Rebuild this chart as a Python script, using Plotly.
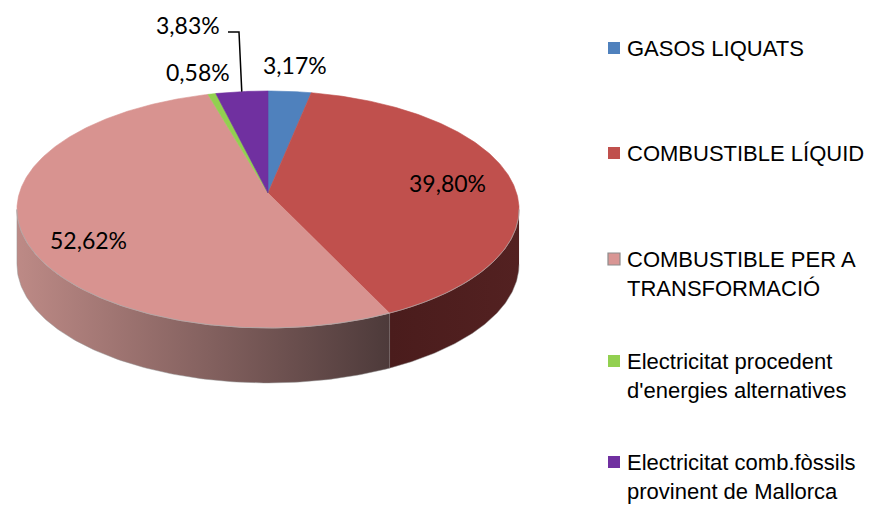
import numpy as np
import plotly.graph_objects as go

# ---------------- data ----------------
categories = [
    "GASOS LIQUATS",
    "COMBUSTIBLE LÍQUID",
    "COMBUSTIBLE PER A<br>TRANSFORMACIÓ",
    "Electricitat procedent<br>d'energies alternatives",
    "Electricitat comb.fòssils<br>provinent de Mallorca",
]
values = [3.17, 39.80, 52.62, 0.58, 3.83]

# ---------------- styling ----------------
top_colors = ["#4f81bd", "#c0504d", "#d89390", "#92d050", "#7030a0"]
side_scales = [
    [[0, "#2b4768"], [1, "#223a55"]],
    [[0, "#4a1c1c"], [1, "#532121"]],
    [[0, "#bd8a86"], [1, "#4d3a3a"]],
    [[0, "#557a2a"], [1, "#476622"]],
    [[0, "#3e1a5a"], [1, "#35164d"]],
]
legend_swatch = ["#4f81bd", "#c0504d", "#d99694", "#92d050", "#7030a0"]

W, H = 885, 505
OFF = 8  # page body margin
CX, CY = 268.0, 193.0      # projected pie centre (pixels)
A, B, K = 248.6, 116.2, 0.139  # horizontal / vertical radius, perspective
DEPTH = 55.0

def proj(theta, r=1.0):
    X = r * np.sin(theta)
    Z = r * np.cos(theta)
    s = 1.0 + K * Z
    return CX + A * X / s, CY - B * Z / s

total = sum(values)
bounds = np.concatenate([[0], np.cumsum(values) / total * 2 * np.pi])

fig = go.Figure()

# side walls (visible front part)
th_r = np.arccos(-K)
th_l = 2 * np.pi - th_r
for i, v in enumerate(values):
    a0, a1 = max(bounds[i], th_r), min(bounds[i + 1], th_l)
    if a1 <= a0:
        continue
    th = np.linspace(a0, a1, 120)
    xt, yt = proj(th)
    xs = np.concatenate([xt, xt[::-1]])
    ys = np.concatenate([yt, (yt + DEPTH)[::-1]])
    fig.add_trace(go.Scatter(
        x=xs, y=ys, mode="lines", fill="toself",
        fillgradient=dict(type="horizontal", colorscale=side_scales[i]),
        line=dict(width=0.8, color="rgba(150,150,150,0.6)"),
        hoverinfo="skip", showlegend=False))

# top faces
for i, v in enumerate(values):
    th = np.linspace(bounds[i], bounds[i + 1], max(8, int(v * 6)))
    xt, yt = proj(th)
    xs = np.concatenate([[CX], xt, [CX]])
    ys = np.concatenate([[CY], yt, [CY]])
    fig.add_trace(go.Scatter(
        x=xs, y=ys, mode="lines", fill="toself", fillcolor=top_colors[i],
        line=dict(width=0.6, color=top_colors[i]),
        hoverinfo="skip", showlegend=False))

# rim highlight along the front edge
th = np.linspace(th_r, th_l, 200)
xr, yr = proj(th)
fig.add_trace(go.Scatter(x=xr, y=yr, mode="lines",
                         line=dict(width=1, color="rgba(170,170,170,0.7)"),
                         hoverinfo="skip", showlegend=False))

# data labels
def fmt(v):
    return f"{v:.2f}".replace(".", ",") + "%"

label_xy = [(295, 65), (447, 183), (88, 240), (198, 72), (188, 25)]
for i, v in enumerate(values):
    lx, ly = label_xy[i]
    fig.add_annotation(x=lx, y=ly, text=fmt(v), showarrow=False,
                       xanchor="center", yanchor="middle",
                       font=dict(family="Lato", size=23, color="#000000"))

# leader line for the purple slice
mid = (bounds[4] + bounds[5]) / 2
px, py = proj(mid)
fig.add_trace(go.Scatter(x=[228, 239, px], y=[32, 32, py], mode="lines",
                         line=dict(width=1.5, color="#000000"),
                         hoverinfo="skip", showlegend=False))

# legend
leg_y = [48, 153, 259, 361, 462]
for i, name in enumerate(categories):
    y0 = leg_y[i]
    fig.add_shape(type="rect", x0=608, x1=620, y0=y0 - 6, y1=y0 + 6,
                  fillcolor=legend_swatch[i],
                  line=dict(width=1.2 if i == 2 else 0,
                            color="#8c8c8c" if i == 2 else legend_swatch[i]))
    fig.add_annotation(x=625, y=y0 - 14, text=name, showarrow=False,
                       xanchor="left", yanchor="top", align="left",
                       font=dict(family="Liberation Sans", size=22,
                                 color="#000000"))

fig.update_layout(
    width=W - OFF, height=H - OFF,
    margin=dict(l=0, r=0, t=0, b=0),
    paper_bgcolor="white", plot_bgcolor="white",
    xaxis=dict(range=[OFF, W], visible=False, fixedrange=True),
    yaxis=dict(range=[H, OFF], visible=False, fixedrange=True),
    showlegend=False,
)

fig.write_html("out.html")
